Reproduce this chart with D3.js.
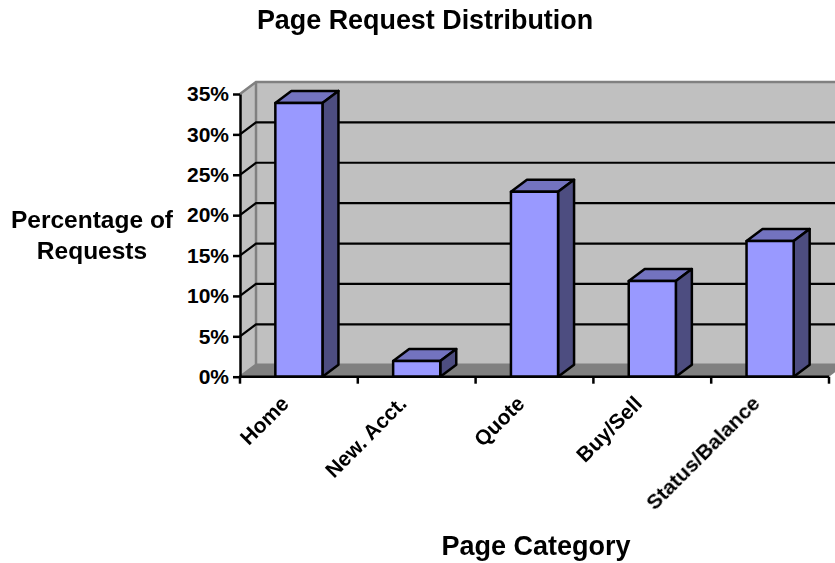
<!DOCTYPE html>
<html>
<head>
<meta charset="utf-8">
<script src="https://cdn.jsdelivr.net/npm/d3@7"></script>
<style>
html, body { margin: 0; padding: 0; background: #fff; }
svg { display: block; }
text { font-family: "Liberation Sans", Arial, sans-serif; font-weight: bold; fill: #000; }
</style>
</head>
<body>
<svg id="chart" width="835" height="563">
  <defs><filter id="soft" x="-10%" y="-10%" width="120%" height="120%"><feGaussianBlur stdDeviation="0.6"/></filter></defs>
</svg>
<script>
const categories = ["Home", "New. Acct.", "Quote", "Buy/Sell", "Status/Balance"];
const requestShare = [33.9, 1.95, 22.9, 11.85, 16.8];
const yTicks = [0, 5, 10, 15, 20, 25, 30, 35];

const depthX = 16, depthY = 12;
const x = d3.scaleBand().domain(categories).range([240, 829]).paddingInner(0.6).paddingOuter(0.3);
const y = d3.scaleLinear().domain([0, 35]).range([376.7, 94]);
const [x0, x1] = x.range();
const y0 = y(0), yTop = y(35);

const svg = d3.select("#chart");
const poly = pts => pts.map(p => p.join(",")).join(" ");

// Side wall, back wall and floor of the 3D box
svg.append("polygon").attr("points", poly([[x0, y0], [x0 + depthX, y0 - depthY], [x0 + depthX, yTop - depthY], [x0, yTop]]))
  .attr("fill", "#c0c0c0");
svg.append("rect").attr("x", x0 + depthX).attr("y", yTop - depthY).attr("width", x1 - x0).attr("height", y0 - yTop)
  .attr("fill", "#c0c0c0");
svg.append("polygon").attr("points", poly([[x0, y0], [x1, y0], [x1 + depthX, y0 - depthY], [x0 + depthX, y0 - depthY]]))
  .attr("fill", "#808080");

// Wall edges
svg.append("path")
  .attr("d", `M${x0},${yTop}L${x0 + depthX},${yTop - depthY}H${x1 + depthX}M${x0 + depthX},${yTop - depthY}V${y0 - depthY}L${x0},${y0}M${x0 + depthX},${y0 - depthY}H${x1 + depthX}`)
  .attr("fill", "none").attr("stroke", "#808080").attr("stroke-width", 2.5);

// Gridlines run along both the back wall and the side wall
const grid = svg.append("g").attr("fill", "none").attr("stroke", "#000").attr("stroke-width", 2.2);
yTicks.filter(t => t > 0 && t < 35).forEach(t => {
  grid.append("path").attr("d", `M${x0},${y(t)}L${x0 + depthX},${y(t) - depthY}H${x1 + depthX}`);
});

// Bars: front face, top face, right face
const bars = svg.append("g").attr("stroke", "#000").attr("stroke-width", 2.5).attr("stroke-linejoin", "round");
categories.forEach((c, i) => {
  const l = x(c), r = l + x.bandwidth(), t = y(requestShare[i]);
  bars.append("polygon").attr("fill", "#7373bf")
    .attr("points", poly([[l, t], [l + depthX, t - depthY], [r + depthX, t - depthY], [r, t]]));
  bars.append("polygon").attr("fill", "#4d4d80")
    .attr("points", poly([[r, t], [r + depthX, t - depthY], [r + depthX, y0 - depthY], [r, y0]]));
  bars.append("rect").attr("fill", "#9999ff").attr("x", l).attr("y", t).attr("width", r - l).attr("height", y0 - t);
});

// Y axis
const yAxis = svg.append("g").attr("transform", `translate(${x0},0)`)
  .call(d3.axisLeft(y).tickValues(yTicks).tickFormat(d => d + "%").tickSize(7).tickSizeOuter(0).tickPadding(4));
yAxis.selectAll("path, line").attr("stroke", "#000").attr("stroke-width", 2.5);
yAxis.selectAll("text").attr("font-size", 21);

// X axis: ticks sit on category boundaries, so they are drawn from the band step
const boundaries = d3.range(categories.length + 1).map(i => x0 + i * x.step());
const xAxis = svg.append("g").attr("stroke", "#000").attr("stroke-width", 2.5);
xAxis.append("line").attr("x1", x0 - 1).attr("x2", x1).attr("y1", y0).attr("y2", y0);
xAxis.selectAll("line.tick").data(boundaries).join("line").attr("class", "tick")
  .attr("x1", d => d).attr("x2", d => d).attr("y1", y0).attr("y2", y0 + 7);

svg.append("g").attr("filter", "url(#soft)").selectAll("text").data(categories).join("text")
  .attr("font-size", 21)
  .attr("text-anchor", "end")
  .attr("transform", d => `translate(${x(d) + x.bandwidth() / 2 - 14},${y0 + 23}) rotate(-45)`)
  .attr("dy", "0.35em")
  .text(d => d);

// Titles
svg.append("text").attr("x", 425).attr("y", 29.3).attr("text-anchor", "middle").attr("font-size", 26.9).text("Page Request Distribution");
svg.append("text").attr("x", 92).attr("y", 228).attr("text-anchor", "middle").attr("font-size", 24.5).text("Percentage of");
svg.append("text").attr("x", 92).attr("y", 259).attr("text-anchor", "middle").attr("font-size", 24.5).text("Requests");
svg.append("text").attr("x", 536).attr("y", 555).attr("text-anchor", "middle").attr("font-size", 27).text("Page Category");
</script>
</body>
</html>
